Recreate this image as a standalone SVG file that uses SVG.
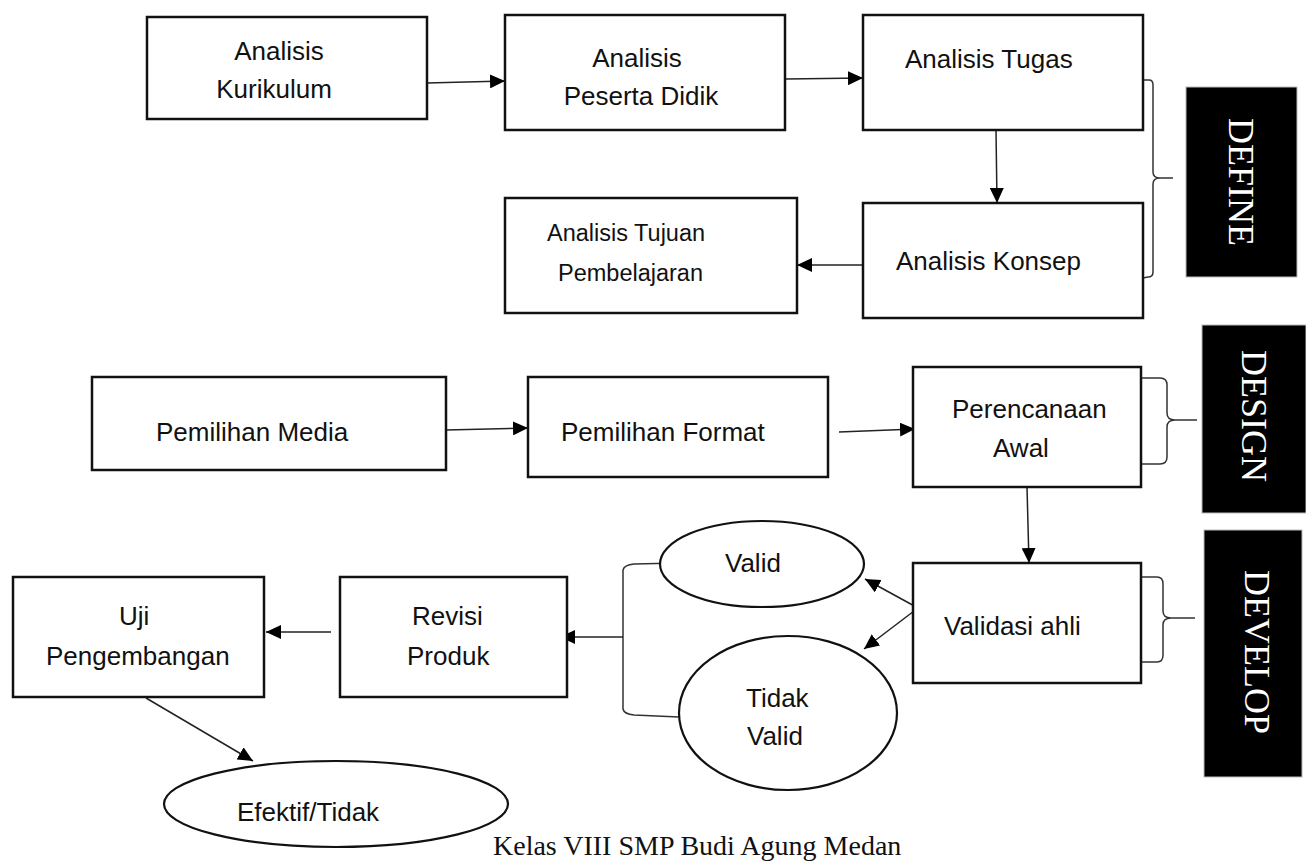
<svg xmlns="http://www.w3.org/2000/svg" width="1306" height="862" viewBox="0 0 1306 862">
<style>
.box{fill:#fff;stroke:#111;stroke-width:2.5}
.ell{fill:#fff;stroke:#111;stroke-width:2.2}
.t{font-family:"Liberation Sans",Arial,sans-serif;font-size:26px;fill:#111}
.ts{font-family:"Liberation Sans",Arial,sans-serif;font-size:23.5px;fill:#111}
.cap{font-family:"Liberation Serif","Times New Roman",serif;font-size:28px;fill:#111}
.ph{fill:#000;stroke:#bbb;stroke-width:1}
.pt{font-family:"Liberation Serif","Times New Roman",serif;font-size:36px;fill:#fff;text-anchor:middle}
.c{fill:none;stroke:#222;stroke-width:1.5}
.br{fill:none;stroke:#333;stroke-width:1.5}
</style>
<defs>
<marker id="ah" viewBox="0 0 15 14" refX="15" refY="7" markerWidth="15" markerHeight="14" markerUnits="userSpaceOnUse" orient="auto">
<path d="M0,0 L15,7 L0,14 z" fill="#000"/>
</marker>
</defs>
<rect width="1306" height="862" fill="#fff"/>

<g id="connectors">
<line class="c" x1="427" y1="83" x2="505" y2="81" marker-end="url(#ah)"/>
<line class="c" x1="786" y1="79" x2="863" y2="78" marker-end="url(#ah)"/>
<line class="c" x1="996" y1="130" x2="997" y2="203" marker-end="url(#ah)"/>
<line class="c" x1="863" y1="265" x2="797" y2="265" marker-end="url(#ah)"/>
<line class="c" x1="446" y1="430" x2="528" y2="428" marker-end="url(#ah)"/>
<line class="c" x1="839" y1="432" x2="915" y2="429" marker-end="url(#ah)"/>
<line class="c" x1="1027" y1="487" x2="1029" y2="563" marker-end="url(#ah)"/>
<line class="c" x1="918" y1="608" x2="865" y2="579" marker-end="url(#ah)"/>
<line class="c" x1="918" y1="608" x2="864" y2="649" marker-end="url(#ah)"/>
<path class="br" d="M679,563 L634,564 Q624,565 623,570 L623,709 Q624,714 634,715 L679,717"/>
<line class="c" x1="623" y1="637" x2="560" y2="637" marker-end="url(#ah)"/>
<line class="c" x1="331" y1="632" x2="266" y2="632" marker-end="url(#ah)"/>
<line class="c" x1="146" y1="698" x2="253" y2="761" marker-end="url(#ah)"/>
<path class="br" d="M1143,80 L1149,80 Q1153,80 1153,85 L1153,172 Q1153,178 1160,178 L1173,178 M1160,178 Q1153,178 1153,184 L1153,272 Q1153,277 1148,277 L1143,278"/>
<path class="br" d="M1141,378 L1160,378 Q1167,378 1167,385 L1167,413 Q1167,420 1175,420 L1197,420 M1175,420 Q1167,420 1167,427 L1167,457 Q1167,464 1160,464 L1141,464"/>
<path class="br" d="M1141,577 L1157,577 Q1163,577 1163,584 L1163,611 Q1163,618 1171,618 L1195,618 M1171,618 Q1163,618 1163,625 L1163,655 Q1163,662 1157,662 L1141,662"/>
</g>

<g id="n1"><rect class="box" x="147" y="17" width="280" height="102"/>
<text class="t" x="279" y="60" text-anchor="middle">Analisis</text>
<text class="t" x="274" y="98" text-anchor="middle">Kurikulum</text></g>
<g id="n2"><rect class="box" x="505" y="15" width="280" height="115"/>
<text class="t" x="637" y="67" text-anchor="middle">Analisis</text>
<text class="t" x="641" y="105" text-anchor="middle">Peserta Didik</text></g>
<g id="n3"><rect class="box" x="863" y="15" width="280" height="115"/>
<text class="t" x="905" y="68">Analisis Tugas</text></g>
<g id="n4"><rect class="box" x="863" y="203" width="280" height="115"/>
<text class="t" x="896" y="270">Analisis Konsep</text></g>
<g id="n5"><rect class="box" x="505" y="198" width="292" height="115"/>
<text class="ts" x="547" y="241">Analisis Tujuan</text>
<text class="ts" x="558" y="281">Pembelajaran</text></g>
<g id="n6"><rect class="box" x="92" y="377" width="354" height="93"/>
<text class="t" x="156" y="441">Pemilihan Media</text></g>
<g id="n7"><rect class="box" x="528" y="377" width="300" height="100"/>
<text class="t" x="561" y="441">Pemilihan Format</text></g>
<g id="n8"><rect class="box" x="913" y="367" width="228" height="120"/>
<text class="t" x="952" y="418">Perencanaan</text>
<text class="t" x="993" y="457">Awal</text></g>
<g id="n9"><rect class="box" x="913" y="563" width="228" height="120"/>
<text class="t" x="944" y="635">Validasi ahli</text></g>
<g id="n10"><ellipse class="ell" cx="762" cy="564" rx="102" ry="43"/>
<text class="t" x="725" y="572">Valid</text></g>
<g id="n11"><ellipse class="ell" cx="788" cy="713" rx="109" ry="77"/>
<text class="t" x="746" y="707">Tidak</text>
<text class="t" x="747" y="745">Valid</text></g>
<g id="n12"><rect class="box" x="340" y="577" width="227" height="120"/>
<text class="t" x="412" y="625">Revisi</text>
<text class="t" x="407" y="665">Produk</text></g>
<g id="n13"><rect class="box" x="13" y="577" width="251" height="120"/>
<text class="t" x="119" y="625">Uji</text>
<text class="t" x="46" y="665">Pengembangan</text></g>
<g id="n14"><ellipse class="ell" cx="336" cy="804" rx="172" ry="43"/>
<text class="t" x="237" y="821">Efektif/Tidak</text></g>

<g id="define"><rect class="ph" x="1186" y="87" width="111" height="190"/>
<text class="pt" transform="translate(1241,182) rotate(90)" x="0" y="12">DEFINE</text></g>
<g id="design"><rect class="ph" x="1202" y="325" width="104" height="188"/>
<text class="pt" transform="translate(1254,416) rotate(90)" x="0" y="12">DESIGN</text></g>
<g id="develop"><rect class="ph" x="1204" y="530" width="98" height="247"/>
<text class="pt" transform="translate(1257,652) rotate(90)" x="0" y="12">DEVELOP</text></g>

<text class="cap" x="493" y="855">Kelas VIII SMP Budi Agung Medan</text>
</svg>
